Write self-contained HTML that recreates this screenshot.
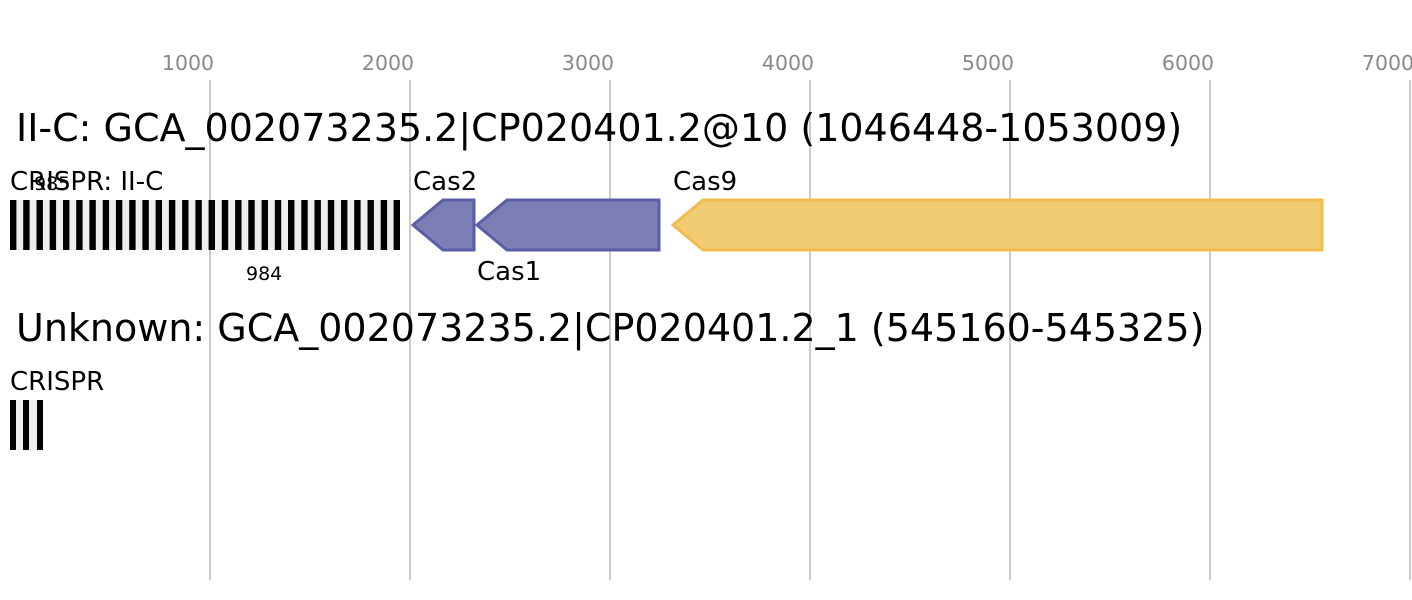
<!DOCTYPE html>
<html><head><style>body{margin:0;background:#fff}svg{display:block}</style></head><body>
<svg width="1412" height="600" xmlns="http://www.w3.org/2000/svg" font-family="DejaVu Sans, Liberation Sans, sans-serif">
<g stroke="#bbb" stroke-width="1.5">
<line x1="210" y1="80" x2="210" y2="580"/><line x1="410" y1="80" x2="410" y2="580"/><line x1="610" y1="80" x2="610" y2="580"/><line x1="810" y1="80" x2="810" y2="580"/><line x1="1010" y1="80" x2="1010" y2="580"/><line x1="1210" y1="80" x2="1210" y2="580"/><line x1="1410" y1="80" x2="1410" y2="580"/>
</g>
<g fill="#888" font-size="20.5" text-anchor="middle">
<text x="188" y="70">1000</text><text x="388" y="70">2000</text><text x="588" y="70">3000</text><text x="788" y="70">4000</text><text x="988" y="70">5000</text><text x="1188" y="70">6000</text><text x="1388" y="70">7000</text>
</g>
<text x="16" y="141" font-size="38">II-C: GCA_002073235.2|CP020401.2@10 (1046448-1053009)</text>
<text x="16" y="341" font-size="38">Unknown: GCA_002073235.2|CP020401.2_1 (545160-545325)</text>
<text x="10" y="190" font-size="26">CRISPR: II-C</text>
<text x="34" y="190" font-size="19">985</text>
<text x="246" y="280" font-size="19">984</text>
<rect x="10" y="200" width="390" height="50" fill="#eee"/>
<g fill="#000">
<rect x="10" y="200" width="6.4" height="50"/><rect x="23.2" y="200" width="6.4" height="50"/><rect x="36.5" y="200" width="6.4" height="50"/><rect x="49.7" y="200" width="6.4" height="50"/><rect x="63" y="200" width="6.4" height="50"/><rect x="76.2" y="200" width="6.4" height="50"/><rect x="89.4" y="200" width="6.4" height="50"/><rect x="102.7" y="200" width="6.4" height="50"/><rect x="115.9" y="200" width="6.4" height="50"/><rect x="129.2" y="200" width="6.4" height="50"/><rect x="142.4" y="200" width="6.4" height="50"/><rect x="155.6" y="200" width="6.4" height="50"/><rect x="168.9" y="200" width="6.4" height="50"/><rect x="182.1" y="200" width="6.4" height="50"/><rect x="195.4" y="200" width="6.4" height="50"/><rect x="208.6" y="200" width="6.4" height="50"/><rect x="221.8" y="200" width="6.4" height="50"/><rect x="235.1" y="200" width="6.4" height="50"/><rect x="248.3" y="200" width="6.4" height="50"/><rect x="261.6" y="200" width="6.4" height="50"/><rect x="274.8" y="200" width="6.4" height="50"/><rect x="288" y="200" width="6.4" height="50"/><rect x="301.3" y="200" width="6.4" height="50"/><rect x="314.5" y="200" width="6.4" height="50"/><rect x="327.8" y="200" width="6.4" height="50"/><rect x="341" y="200" width="6.4" height="50"/><rect x="354.2" y="200" width="6.4" height="50"/><rect x="367.5" y="200" width="6.4" height="50"/><rect x="380.7" y="200" width="6.4" height="50"/><rect x="393.6" y="200" width="6.4" height="50"/>
</g>
<polygon points="413,225 443,200 474,200 474,250 443,250" fill="#7b7fb6" stroke="#5b5ea6" stroke-width="3"/>
<polygon points="477,225 507,200 659,200 659,250 507,250" fill="#7b7fb6" stroke="#5b5ea6" stroke-width="3"/>
<polygon points="673,225 703,200 1322,200 1322,250 703,250" fill="#f2cc73" stroke="#efbc4d" stroke-width="3"/>
<text x="413" y="190" font-size="26">Cas2</text>
<text x="477" y="280" font-size="26">Cas1</text>
<text x="673" y="190" font-size="26">Cas9</text>
<text x="10" y="390" font-size="26">CRISPR</text>
<rect x="10" y="400" width="33" height="50" fill="#eee"/>
<rect x="10" y="400" width="6" height="50"/><rect x="23" y="400" width="6" height="50"/><rect x="37" y="400" width="6" height="50"/>
</svg>
</body></html>
